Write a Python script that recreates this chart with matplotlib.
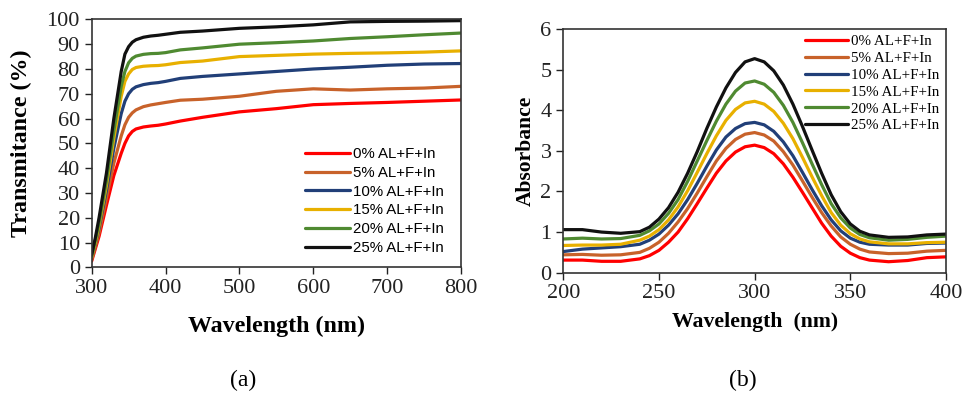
import matplotlib
matplotlib.use("Agg")
import matplotlib.pyplot as plt

labels = ["0% AL+F+In", "5% AL+F+In", "10% AL+F+In", "15% AL+F+In", "20% AL+F+In", "25% AL+F+In"]
colors = ["#FF0000", "#C8622A", "#213F78", "#E8B000", "#4F8A31", "#111111"]

# (a) Transmittance
wl_t = [300, 305, 310, 320, 330, 340, 345, 350, 355, 360, 370, 380, 390, 400, 420, 450, 500, 550, 600, 650, 700, 750, 800]
t0 = [2.5, 7.5, 12.5, 25, 37, 46, 50, 53, 54.8, 55.8, 56.6, 57, 57.3, 57.8, 59, 60.5, 62.7, 64, 65.6, 66.1, 66.5, 67, 67.5]
t5 = [3, 8.5, 14, 28, 42, 53, 57.5, 60.5, 62.3, 63.5, 64.8, 65.5, 66, 66.5, 67.4, 67.8, 69, 71, 72, 71.5, 72, 72.3, 73]
t10 = [4, 9.5, 16, 31, 48, 62, 67, 70, 71.8, 72.8, 73.7, 74.2, 74.5, 75, 76.2, 77, 78, 79, 80, 80.7, 81.5, 82, 82.2]
t15 = [4, 10, 17, 33, 52, 69, 75, 78, 79.8, 80.6, 81.1, 81.3, 81.4, 81.7, 82.6, 83.2, 85, 85.5, 86, 86.3, 86.5, 86.8, 87.3]
t20 = [4.5, 11, 18, 35, 55, 73, 79, 82.5, 84.3, 85.2, 85.9, 86.2, 86.3, 86.6, 87.7, 88.5, 90, 90.6, 91.3, 92.3, 93, 93.8, 94.5]
t25 = [5, 12, 20, 38, 60, 79, 86, 89, 90.8, 91.8, 92.8, 93.3, 93.6, 94, 94.8, 95.3, 96.4, 97, 97.8, 99, 99.2, 99.3, 99.5]
trans = [t0, t5, t10, t15, t20, t25]

# (b) Absorbance
wl_a = [200, 210, 220, 230, 240, 245, 250, 255, 260, 265, 270, 275, 280, 285, 290, 295, 300,
        305, 310, 315, 320, 325, 330, 335, 340, 345, 350, 355, 360, 370, 380, 390, 400]
a0 = [0.31, 0.31, 0.28, 0.28, 0.34, 0.42, 0.55, 0.75, 1.00, 1.33, 1.70, 2.08, 2.45, 2.75, 2.97, 3.10, 3.14,
      3.08, 2.93, 2.68, 2.35, 1.98, 1.60, 1.22, 0.90, 0.65, 0.48, 0.37, 0.31, 0.27, 0.30, 0.37, 0.39]
a5 = [0.44, 0.45, 0.43, 0.44, 0.50, 0.60, 0.75, 0.97, 1.25, 1.58, 1.96, 2.36, 2.75, 3.06, 3.28, 3.41, 3.45,
      3.39, 3.24, 2.98, 2.65, 2.26, 1.86, 1.48, 1.15, 0.88, 0.70, 0.58, 0.51, 0.47, 0.48, 0.53, 0.55]
a10 = [0.52, 0.58, 0.61, 0.64, 0.70, 0.80, 0.95, 1.17, 1.45, 1.80, 2.20, 2.62, 3.02, 3.34, 3.55, 3.67, 3.70,
       3.64, 3.48, 3.22, 2.88, 2.47, 2.05, 1.65, 1.30, 1.03, 0.85, 0.75, 0.70, 0.68, 0.68, 0.72, 0.73]
a15 = [0.67, 0.68, 0.68, 0.70, 0.80, 0.90, 1.06, 1.30, 1.62, 2.02, 2.47, 2.93, 3.37, 3.75, 4.02, 4.18, 4.22,
       4.15, 3.97, 3.68, 3.30, 2.84, 2.36, 1.90, 1.48, 1.17, 0.96, 0.83, 0.76, 0.71, 0.71, 0.74, 0.75]
a20 = [0.83, 0.85, 0.83, 0.84, 0.92, 1.03, 1.20, 1.46, 1.80, 2.25, 2.75, 3.25, 3.73, 4.15, 4.47, 4.67, 4.72,
       4.64, 4.44, 4.12, 3.70, 3.20, 2.68, 2.17, 1.70, 1.35, 1.10, 0.94, 0.86, 0.80, 0.82, 0.87, 0.90]
a25 = [1.06, 1.06, 1.00, 0.97, 1.01, 1.12, 1.32, 1.60, 1.98, 2.45, 2.98, 3.55, 4.08, 4.55, 4.93, 5.19, 5.27,
       5.19, 4.97, 4.62, 4.15, 3.60, 3.02, 2.45, 1.92, 1.50, 1.20, 1.02, 0.93, 0.87, 0.88, 0.93, 0.95]
absb = [a0, a5, a10, a15, a20, a25]

serif = "Liberation Serif"
sans = "Liberation Sans"

fig = plt.figure(figsize=(9.65, 3.96), dpi=100)
ax1 = fig.add_axes([0.095, 0.325, 0.3827, 0.626])
ax2 = fig.add_axes([0.5837, 0.3114, 0.3966, 0.6154])

for y, c, l in zip(trans, colors, labels):
    ax1.plot(wl_t, y, color=c, lw=2.3, label=l, solid_joinstyle="round", solid_capstyle="round")
ax1.set_xlim(300, 800)
ax1.set_ylim(0, 100)
ax1.set_xticks([300, 400, 500, 600, 700, 800])
ax1.set_yticks(range(0, 101, 10))
ax1.set_xlabel("Wavelength (nm)", fontfamily=serif, fontweight="bold", fontsize=17.3)
ax1.set_ylabel("Transmitance (%)", fontfamily=serif, fontweight="bold", fontsize=17.3)
ax1.xaxis.set_label_coords(0.5, -0.237)
ax1.xaxis.label.set_va("center")
ax1.yaxis.set_label_coords(-0.189, 0.5)
ax1.yaxis.label.set_va("center")
ax1.legend(loc="upper left", frameon=False, prop={"family": sans, "size": 10.8},
           handlelength=3.0, handletextpad=0.2, labelspacing=0.32,
           borderpad=0, borderaxespad=0, bbox_to_anchor=(0.578, 0.485))

for y, c, l in zip(absb, colors, labels):
    ax2.plot(wl_a, y, color=c, lw=2.3, label=l, solid_joinstyle="round", solid_capstyle="round")
ax2.set_xlim(200, 400)
ax2.set_ylim(0, 6)
ax2.set_xticks([200, 250, 300, 350, 400])
ax2.set_yticks(range(0, 7))
ax2.set_xlabel("Wavelength  (nm)", fontfamily=serif, fontweight="bold", fontsize=15.7)
ax2.set_ylabel("Absorbance", fontfamily=serif, fontweight="bold", fontsize=15.5)
ax2.xaxis.set_label_coords(0.5, -0.202)
ax2.xaxis.label.set_va("center")
ax2.yaxis.set_label_coords(-0.0975, 0.5)
ax2.yaxis.label.set_va("center")
ax2.legend(loc="upper left", frameon=False, prop={"family": serif, "size": 10.85},
           handlelength=2.87, handletextpad=0.2, labelspacing=0.22,
           borderpad=0, borderaxespad=0, bbox_to_anchor=(0.6316, 0.977))

for ax in (ax1, ax2):
    for s in ax.spines.values():
        s.set_linewidth(1.2)
        s.set_color("#333333")
    ax.tick_params(direction="out", length=5, width=1, labelsize=16, colors="#222222")
    for t in ax.get_xticklabels() + ax.get_yticklabels():
        t.set_fontfamily(serif)

fig.text(0.252, 0.038, "(a)", fontfamily=serif, fontsize=17, ha="center", va="center")
fig.text(0.770, 0.038, "(b)", fontfamily=serif, fontsize=17, ha="center", va="center")

fig.savefig("out.png", dpi=100)
